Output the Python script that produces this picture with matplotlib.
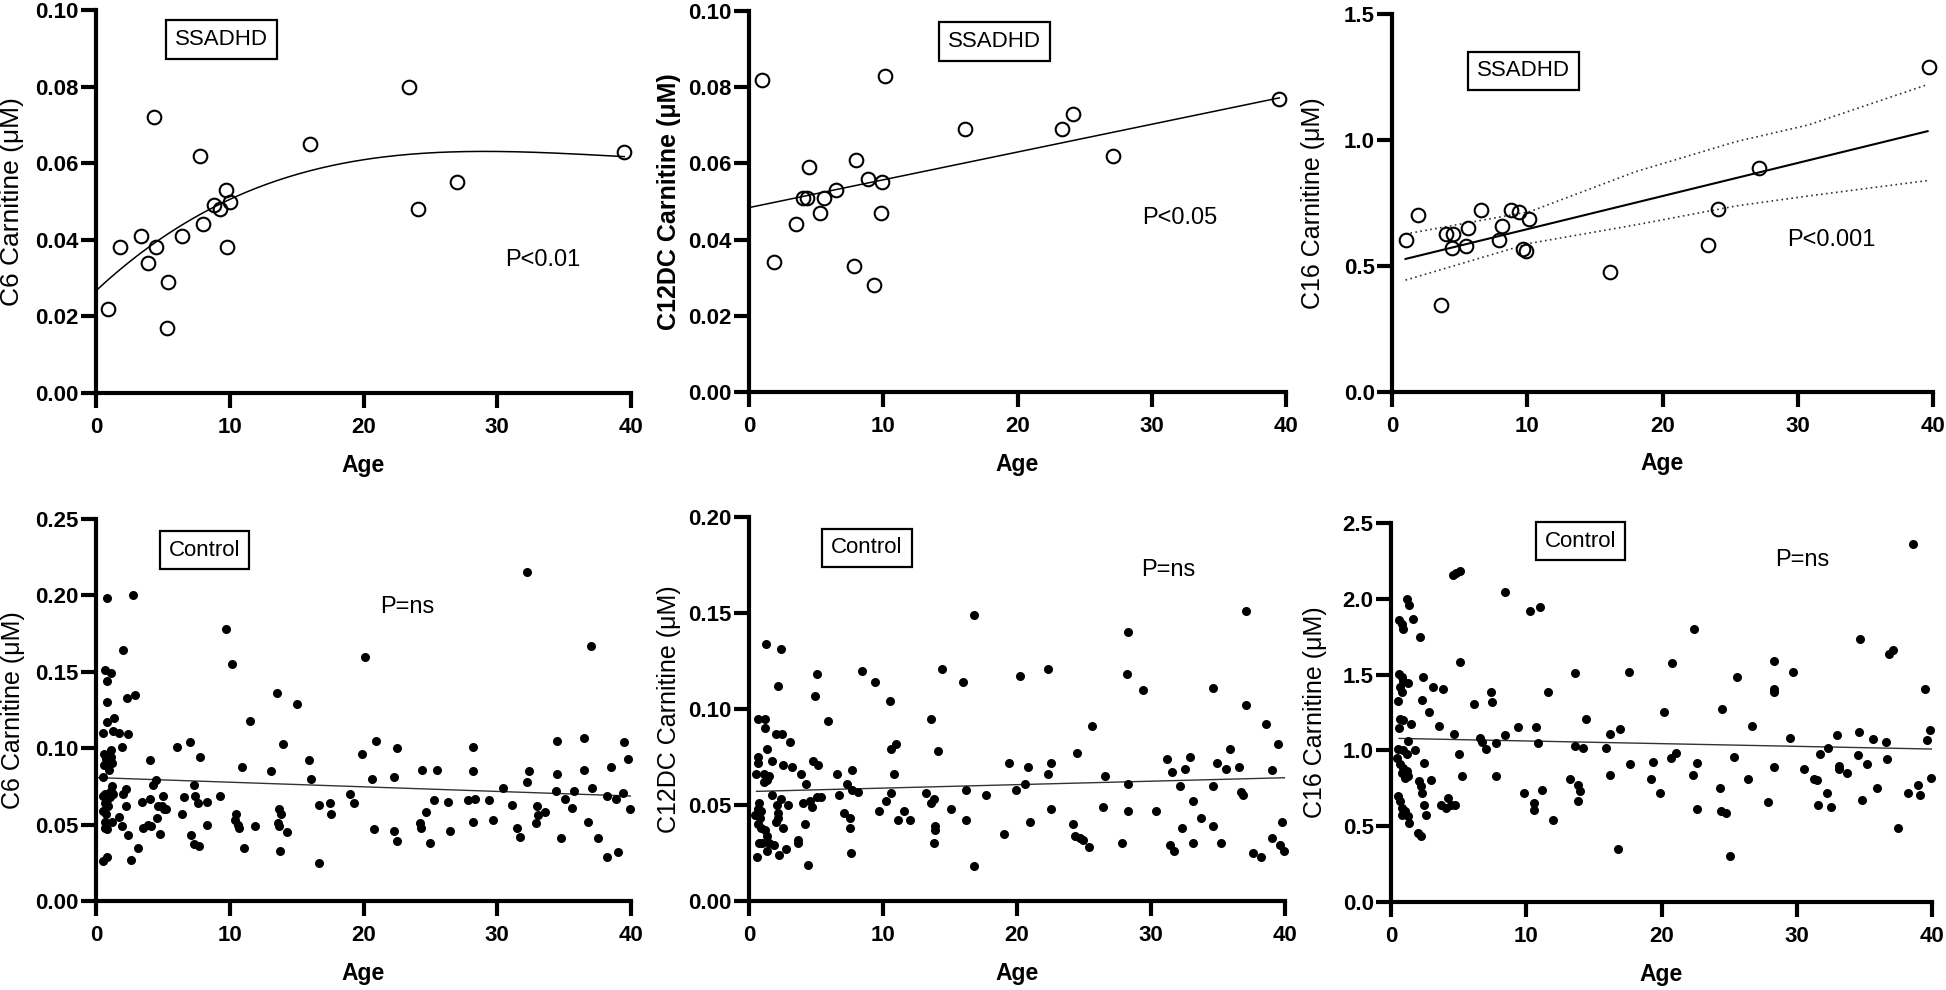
import matplotlib
matplotlib.use("Agg")
import matplotlib.pyplot as plt
from matplotlib.ticker import FormatStrFormatter
import numpy as np

plt.rcParams['font.family'] = ['Liberation Sans', 'DejaVu Sans']

# ---------------- SSADHD (top row) ----------------
c6_age = [0.9, 1.8, 3.4, 3.9, 4.3, 4.5, 5.3, 5.4, 6.4, 7.8, 8.0, 8.8, 9.3, 9.7, 9.8, 10.0,
          16.0, 23.4, 24.1, 27.0, 39.5]
c6_val = [0.022, 0.038, 0.041, 0.034, 0.072, 0.038, 0.017, 0.029, 0.041, 0.062, 0.044, 0.049,
          0.048, 0.053, 0.038, 0.050, 0.065, 0.080, 0.048, 0.055, 0.063]
c6_curve_x = [0.1, 2.1, 4.6, 7.05, 9.5, 12.0, 15.7, 19.5, 23.2, 26.9, 31.1, 35.0, 39.5]
c6_curve_y = [0.027, 0.033, 0.040, 0.0452, 0.0495, 0.0534, 0.0578, 0.0608, 0.0623, 0.0628,
              0.0630, 0.0626, 0.0617]

c12_age = [1.0, 1.85, 3.5, 4.0, 4.3, 4.5, 5.3, 5.6, 6.5, 7.8, 8.0, 8.9, 9.3, 9.8, 9.9, 10.1,
           16.1, 23.35, 24.1, 27.1, 39.5]
c12_val = [0.082, 0.034, 0.044, 0.051, 0.051, 0.059, 0.047, 0.051, 0.053, 0.033, 0.061, 0.056,
           0.028, 0.047, 0.055, 0.083, 0.069, 0.069, 0.073, 0.062, 0.077]
c12_fit_x = [0.0, 39.5]
c12_fit_y = [0.0484, 0.0772]

c16_age = [1.0, 1.9, 3.6, 4.0, 4.4, 4.5, 5.5, 5.6, 6.6, 7.9, 8.1, 8.8, 9.4, 9.7, 9.9, 10.1,
           16.1, 23.4, 24.1, 27.1, 39.7]
c16_val = [0.605, 0.703, 0.344, 0.628, 0.571, 0.628, 0.581, 0.650, 0.723, 0.605, 0.657, 0.723,
           0.716, 0.566, 0.560, 0.687, 0.478, 0.585, 0.727, 0.888, 1.289]
c16_fit_x = [1.0, 39.6]
c16_fit_y = [0.528, 1.035]
c16_ci_x = [1.0, 10.2, 18.0, 25.4, 30.8, 39.6]
c16_ci_hi = [0.627, 0.716, 0.874, 0.993, 1.060, 1.220]
c16_ci_lo = [0.444, 0.590, 0.663, 0.738, 0.778, 0.839]

# ---------------- Control (bottom row) ----------------
ctl_c6_age = [0.84, 2.78, 2.03, 0.67, 1.09, 0.84, 0.84, 2.33, 2.9, 0.84, 1.36, 0.55, 1.29, 1.73,
              2.4, 1.98, 1.09, 0.6, 0.75, 1.15, 1.2, 4.0, 0.5, 0.7, 0.95, 1.2, 2.28, 2.03, 4.46,
              4.26, 5.0, 0.5, 0.68, 0.8, 1.05, 0.55, 0.75, 1.73, 2.28, 3.47, 4.0, 4.6, 5.1, 0.68,
              0.8, 1.2, 1.98, 2.4, 3.5, 3.9, 4.1, 4.56, 4.76, 3.15, 0.5, 0.84, 2.6,
              0.6, 1.0, 0.9, 1.1, 0.7, 1.3, 4.9, 5.2,
              6.05, 7.0, 6.4, 6.6, 7.3, 7.4, 7.6, 7.8, 7.1, 7.35, 7.7, 8.3, 8.3, 9.3, 9.7, 10.2,
              10.9, 10.5, 10.4, 10.6, 10.7, 11.1, 11.5, 11.9, 13.1, 13.5, 13.6, 13.7, 13.8, 13.7,
              13.75, 14.0, 14.3, 15.0, 15.9, 16.1, 16.7, 16.7, 17.5, 17.6, 19.0, 19.3, 19.9, 20.1,
              20.6, 20.8, 20.9, 22.25, 22.25, 22.5, 22.5, 24.2, 24.3, 24.4, 24.7, 25.0, 25.3,
              25.5, 26.3, 26.5, 27.8, 28.15, 28.2, 28.3, 28.2, 29.4, 29.7, 30.4, 31.1, 31.5,
              31.7, 32.2, 32.2, 32.4, 32.9, 33.0, 33.05, 33.6, 34.5, 34.5, 34.4, 34.8, 35.1,
              35.6, 35.75, 36.5, 36.5, 36.8, 37.0, 37.1, 37.5, 38.2, 38.2, 38.5, 38.9, 39.0,
              39.4, 39.5, 39.8, 39.9]
ctl_c6_val = [0.198, 0.200, 0.164, 0.151, 0.149, 0.144, 0.130, 0.133, 0.135, 0.117, 0.120, 0.110,
              0.111, 0.110, 0.109, 0.101, 0.099, 0.096, 0.093, 0.094, 0.090, 0.092, 0.081, 0.070,
              0.071, 0.075, 0.073, 0.070, 0.079, 0.076, 0.069, 0.069, 0.064, 0.066, 0.068, 0.059,
              0.057, 0.055, 0.062, 0.065, 0.067, 0.0625, 0.060, 0.052, 0.047, 0.052, 0.049,
              0.043, 0.048, 0.050, 0.049, 0.054, 0.044, 0.035, 0.026, 0.029, 0.027,
              0.089, 0.086, 0.062, 0.072, 0.048, 0.070, 0.062, 0.060,
              0.101, 0.104, 0.057, 0.068, 0.076, 0.069, 0.064, 0.094, 0.043, 0.037, 0.036, 0.065,
              0.050, 0.069, 0.178, 0.155, 0.088, 0.057, 0.053, 0.050, 0.048, 0.035, 0.118, 0.049,
              0.085, 0.136, 0.051, 0.060, 0.057, 0.049, 0.033, 0.103, 0.045, 0.129, 0.092, 0.080,
              0.063, 0.025, 0.064, 0.057, 0.070, 0.064, 0.096, 0.160, 0.080, 0.047, 0.105, 0.081,
              0.046, 0.100, 0.039, 0.051, 0.048, 0.086, 0.058, 0.038, 0.066, 0.086, 0.065, 0.046,
              0.066, 0.101, 0.085, 0.067, 0.052, 0.066, 0.053, 0.074, 0.063, 0.048, 0.042, 0.078,
              0.215, 0.085, 0.051, 0.062, 0.056, 0.058, 0.105, 0.083, 0.072, 0.041, 0.067, 0.061,
              0.072, 0.107, 0.086, 0.052, 0.167, 0.074, 0.041, 0.069, 0.029, 0.088, 0.067, 0.032,
              0.071, 0.104, 0.093, 0.060]
ctl_c6_fit_x = [0.2, 40.0]
ctl_c6_fit_y = [0.0807, 0.0687]

ctl_c12_age = [1.28, 2.4, 2.2, 0.67, 1.16, 1.21, 2.02, 2.44, 3.06, 5.1, 4.96, 1.33, 0.64, 0.64,
               1.7, 2.5, 3.23, 3.88, 4.8, 5.16, 0.54, 1.09, 1.46, 1.09, 1.33, 4.22, 1.75, 2.4,
               2.9, 4.05, 4.54, 4.67, 5.04, 5.36, 0.77, 0.67, 0.91, 0.84, 0.47, 0.67, 0.91, 1.21,
               1.33, 2.07, 2.2, 2.15, 2.52, 2.02, 0.72, 0.96, 1.33, 1.46, 0.6, 1.83, 2.25, 2.77,
               3.68, 3.63, 4.17, 4.37,
               5.9, 6.56, 6.7, 7.1, 7.3, 7.5, 7.5, 7.6, 7.7, 7.7, 8.1, 8.4, 9.4, 9.7, 10.2, 10.5,
               10.6, 10.6, 10.8, 11.0, 11.1, 11.6, 12.0, 13.2, 13.55, 13.6, 13.8, 13.8, 13.9, 13.9,
               14.1, 14.4, 15.1, 16.0, 16.2, 16.2, 16.8, 16.8, 17.7, 19.0, 19.4, 19.9, 20.2, 20.6,
               20.8, 21.0, 22.3, 22.3, 22.5, 22.5, 24.2, 24.3, 24.5, 24.7, 24.9, 25.4, 25.6, 26.4,
               26.6, 27.8, 28.2, 28.3, 28.3, 28.3, 29.4, 30.4, 31.2, 31.4, 31.6, 31.7, 32.2, 32.3,
               32.5, 32.9, 33.1, 33.1, 33.7, 34.6, 34.65, 34.65, 34.9, 35.2, 35.6, 35.9, 36.6,
               36.7, 36.9, 37.1, 37.1, 37.6, 38.2, 38.6, 39.0, 39.0, 39.5, 39.6, 39.75, 39.9]
ctl_c12_val = [0.134, 0.131, 0.112, 0.095, 0.095, 0.090, 0.087, 0.087, 0.083, 0.118, 0.107, 0.079,
               0.075, 0.072, 0.073, 0.071, 0.070, 0.066, 0.073, 0.071, 0.066, 0.066, 0.065, 0.062,
               0.063, 0.061, 0.055, 0.053, 0.050, 0.051, 0.052, 0.049, 0.054, 0.054, 0.051, 0.048,
               0.047, 0.043, 0.045, 0.040, 0.038, 0.037, 0.034, 0.050, 0.046, 0.043, 0.038, 0.041,
               0.030, 0.030, 0.026, 0.030, 0.023, 0.029, 0.024, 0.027, 0.032, 0.030, 0.040, 0.019,
               0.094, 0.066, 0.055, 0.046, 0.061, 0.043, 0.038, 0.025, 0.068, 0.058, 0.057, 0.120,
               0.114, 0.047, 0.052, 0.104, 0.056, 0.079, 0.066, 0.082, 0.042, 0.047, 0.042, 0.056,
               0.095, 0.051, 0.053, 0.030, 0.037, 0.039, 0.078, 0.121, 0.048, 0.114, 0.058, 0.042,
               0.149, 0.018, 0.055, 0.035, 0.072, 0.058, 0.117, 0.061, 0.070, 0.041, 0.066, 0.121,
               0.072, 0.048, 0.040, 0.034, 0.077, 0.033, 0.032, 0.028, 0.091, 0.049, 0.065, 0.030,
               0.118, 0.140, 0.061, 0.047, 0.110, 0.047, 0.074, 0.029, 0.067, 0.026, 0.060, 0.038,
               0.069, 0.075, 0.052, 0.030, 0.043, 0.060, 0.111, 0.039, 0.072, 0.030, 0.069, 0.079,
               0.070, 0.057, 0.055, 0.151, 0.102, 0.025, 0.023, 0.092, 0.033, 0.068, 0.082, 0.029,
               0.041, 0.026]
ctl_c12_fit_x = [0.56, 40.0]
ctl_c12_fit_y = [0.0571, 0.0642]

ctl_c16_age = [1.15, 1.32, 1.64, 0.59, 0.78, 0.91, 2.13, 4.58, 4.83, 5.07, 5.07, 0.59, 0.78, 0.91,
               1.23, 0.66, 0.78, 0.54, 2.38, 3.11, 3.85, 2.3, 2.79, 0.66, 0.91, 0.61, 1.47, 3.53,
               4.66, 1.27, 0.54, 0.91, 1.15, 1.76, 5.0, 0.47, 0.66, 0.91, 1.15, 1.27, 0.78, 1.03,
               2.45, 2.06, 2.25, 2.3, 2.94, 5.25, 0.54, 0.66, 0.83, 1.03, 1.23, 0.78, 1.32, 2.62,
               2.45, 3.73, 4.09, 4.46, 4.75, 4.22, 2.0, 2.2,
               6.1, 6.6, 6.7, 7.05, 7.4, 7.5, 7.75, 7.75, 8.4, 8.4, 9.4, 9.8, 10.3, 10.6, 10.6,
               10.7, 10.9, 11.0, 11.2, 11.6, 12.0, 13.2, 13.6, 13.6, 13.8, 13.85, 13.98, 14.2,
               14.4, 15.9, 16.2, 16.2, 16.8, 16.9, 17.6, 17.7, 19.2, 19.4, 19.9, 20.2, 20.7, 20.8,
               21.1, 22.3, 22.4, 22.6, 22.6, 24.3, 24.4, 24.5, 24.8, 25.1, 25.35, 25.6, 26.4, 26.7,
               27.9, 28.3, 28.3, 28.35, 28.35, 29.5, 29.7, 30.5, 31.3, 31.5, 31.6, 31.7, 32.2,
               32.3, 32.55, 33.0, 33.1, 33.1, 33.7, 34.5, 34.6, 34.7, 34.8, 35.2, 35.65, 35.9,
               36.6, 36.7, 36.85, 37.1, 37.5, 38.25, 38.6, 39.0, 39.1, 39.5, 39.6, 39.85, 39.9]
ctl_c16_val = [1.996, 1.958, 1.869, 1.858, 1.836, 1.803, 1.748, 2.157, 2.173, 2.186, 1.582, 1.504,
               1.482, 1.456, 1.442, 1.416, 1.383, 1.323, 1.482, 1.420, 1.405, 1.332, 1.254, 1.206,
               1.199, 1.150, 1.173, 1.161, 1.111, 1.062, 1.007, 1.000, 0.973, 1.000, 0.978, 0.951,
               0.907, 0.885, 0.863, 0.830, 0.852, 0.819, 0.918, 0.801, 0.763, 0.719, 0.808, 0.830,
               0.697, 0.664, 0.619, 0.597, 0.564, 0.575, 0.520, 0.575, 0.642, 0.642, 0.619, 0.637,
               0.642, 0.686, 0.454, 0.438,
               1.304, 1.079, 1.053, 1.007, 1.383, 1.317, 1.046, 0.830, 1.101, 2.042, 1.156, 0.720,
               1.921, 0.606, 0.654, 1.156, 1.046, 1.943, 0.738, 1.383, 0.540, 0.811, 1.513, 1.031,
               0.771, 0.665, 0.731, 1.018, 1.205, 1.013, 1.106, 0.841, 0.348, 1.139, 1.515, 0.907,
               0.811, 0.925, 0.722, 1.251, 0.952, 1.579, 0.985, 0.837, 1.802, 0.914, 0.612, 0.753,
               0.599, 1.271, 0.584, 0.304, 0.954, 1.487, 0.811, 1.163, 0.661, 1.590, 1.383, 0.892,
               1.403, 1.084, 1.515, 0.877, 0.811, 0.804, 0.643, 0.974, 0.720, 1.018, 0.628, 1.101,
               0.896, 0.877, 0.848, 0.969, 1.119, 1.736, 0.672, 0.910, 1.075, 0.755, 1.057, 0.943,
               1.634, 1.663, 0.491, 0.722, 2.361, 0.771, 0.705, 1.403, 1.068, 1.134, 0.819]
ctl_c16_fit_x = [0.6, 40.0]
ctl_c16_fit_y = [1.079, 1.009]

W, H = 1946, 990
fig = plt.figure(figsize=(W / 100, H / 100), dpi=100)


def make_ax(l, r, t, b):
    return fig.add_axes([l / W, (H - b) / H, (r - l) / W, (b - t) / H])


def style(ax, ymax, ystep, fmt, ylabel, ylabel_bold, ylabel_size, ylab_x):
    ax.set_xlim(0, 40)
    ax.set_ylim(0, ymax)
    for s in ['top', 'right']:
        ax.spines[s].set_visible(False)
    for s in ['left', 'bottom']:
        ax.spines[s].set_linewidth(3.0)
        ax.spines[s].set_capstyle('projecting')
    ax.set_xticks([0, 10, 20, 30, 40])
    ax.set_yticks(np.arange(0, ymax + ystep / 2, ystep))
    ax.yaxis.set_major_formatter(FormatStrFormatter(fmt))
    ax.tick_params(axis='both', width=3.0, length=10.5, labelsize=16)
    ax.tick_params(axis='x', pad=7)
    ax.tick_params(axis='y', pad=2)
    for lab in ax.get_xticklabels() + ax.get_yticklabels():
        lab.set_fontweight('bold')
    ax.set_ylabel(ylabel, fontsize=ylabel_size, fontweight='bold' if ylabel_bold else 'normal')
    ax.yaxis.set_label_coords(ylab_x, 0.5)
    ax.set_xlabel('Age', fontsize=16.5, fontweight='bold')
    ax.xaxis.set_label_coords(0.5, -0.16)
    ax.patch.set_alpha(0)


def label_box(ax, x, y, text):
    ax.text(x, y, text, fontsize=16, ha='center', va='center', zorder=5,
            bbox=dict(boxstyle='square,pad=0.4', fc='white', ec='black', lw=1.6))


open_kw = dict(ls='none', marker='o', ms=9.8, mfc='none', mec='black', mew=1.5, clip_on=False,
               zorder=4)
dot_kw = dict(ls='none', marker='o', ms=6.5, mfc='black', mec='black', mew=0, clip_on=False,
              zorder=4)

# ---- top-left
ax = make_ax(96, 631, 10, 393)
cx = np.linspace(min(c6_curve_x), max(c6_curve_x), 200)
coef = np.polyfit(c6_curve_x, c6_curve_y, 4)
ax.plot(cx, np.polyval(coef, cx), color='black', lw=1.1, zorder=3)
ax.plot(c6_age, c6_val, **open_kw)
style(ax, 0.10, 0.02, '%.2f', 'C6 Carnitine (μM)', False, 19, -0.134)
label_box(ax, 9.4, 0.0922, 'SSADHD')
ax.text(33.4, 0.0347, 'P<0.01', fontsize=17, ha='center', va='center')

# ---- top-middle
ax = make_ax(749, 1286, 11, 392)
ax.plot(c12_fit_x, c12_fit_y, color='black', lw=1.1, zorder=3)
ax.plot(c12_age, c12_val, **open_kw)
style(ax, 0.10, 0.02, '%.2f', 'C12DC Carnitine (μM)', True, 18, -0.126)
label_box(ax, 18.3, 0.0919, 'SSADHD')
ax.text(32.1, 0.0457, 'P<0.05', fontsize=17, ha='center', va='center')

# ---- top-right
ax = make_ax(1392, 1933, 14, 392)
ax.plot(c16_fit_x, c16_fit_y, color='black', lw=1.5, zorder=3)
ax.plot(c16_ci_x, c16_ci_hi, color='#333333', lw=1.2, ls=(0, (1, 2)), zorder=3)
ax.plot(c16_ci_x, c16_ci_lo, color='#333333', lw=1.2, ls=(0, (1, 2)), zorder=3)
ax.plot(c16_age, c16_val, **open_kw)
style(ax, 1.5, 0.5, '%.1f', 'C16 Carnitine (μM)', False, 18, -0.123)
label_box(ax, 9.7, 1.274, 'SSADHD')
ax.text(32.5, 0.603, 'P<0.001', fontsize=17, ha='center', va='center')

# ---- bottom-left
ax = make_ax(96, 631, 519, 901)
ax.plot(ctl_c6_fit_x, ctl_c6_fit_y, color='#333333', lw=1.0, zorder=3)
ax.plot(ctl_c6_age, ctl_c6_val, **dot_kw)
style(ax, 0.25, 0.05, '%.2f', 'C6 Carnitine (μM)', False, 18, -0.132)
label_box(ax, 8.1, 0.2297, 'Control')
ax.text(23.3, 0.1924, 'P=ns', fontsize=17, ha='center', va='center')

# ---- bottom-middle
ax = make_ax(749, 1285, 517, 901)
ax.plot(ctl_c12_fit_x, ctl_c12_fit_y, color='#333333', lw=1.0, zorder=3)
ax.plot(ctl_c12_age, ctl_c12_val, **dot_kw)
style(ax, 0.20, 0.05, '%.2f', 'C12DC Carnitine (μM)', False, 18, -0.126)
label_box(ax, 8.8, 0.1839, 'Control')
ax.text(31.3, 0.1724, 'P=ns', fontsize=17, ha='center', va='center')

# ---- bottom-right
ax = make_ax(1391, 1932, 523, 902)
ax.plot(ctl_c16_fit_x, ctl_c16_fit_y, color='#333333', lw=1.0, zorder=3)
ax.plot(ctl_c16_age, ctl_c16_val, **dot_kw)
style(ax, 2.5, 0.5, '%.1f', 'C16 Carnitine (μM)', False, 18, -0.118)
label_box(ax, 14.0, 2.381, 'Control')
ax.text(30.4, 2.256, 'P=ns', fontsize=17, ha='center', va='center')

fig.savefig('out.png', dpi=100, facecolor='white')
